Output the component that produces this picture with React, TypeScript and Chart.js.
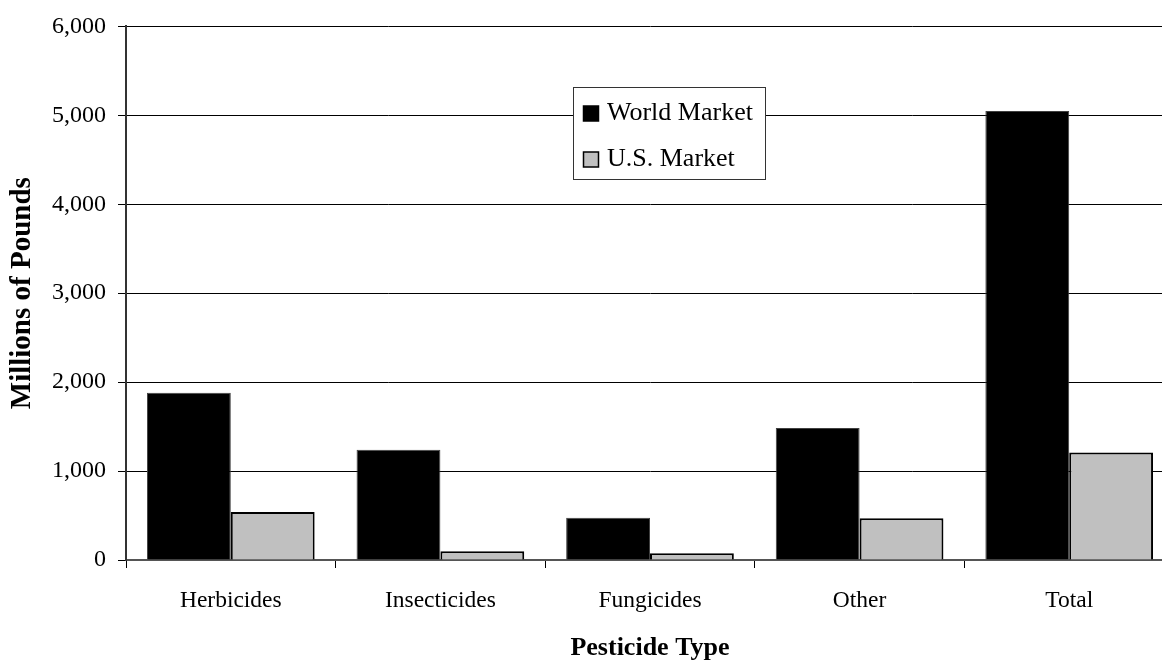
import { useEffect, useRef } from 'react';
import { Chart, registerables } from 'chart.js';

Chart.register(...registerables);

const categories = ['Herbicides', 'Insecticides', 'Fungicides', 'Other', 'Total'];
const worldMarket = [1880, 1240, 475, 1485, 5050];
const usMarket = [540, 98, 75, 470, 1210];
const seriesLabels = ['World Market', 'U.S. Market'];
const yTickValues = [0, 1000, 2000, 3000, 4000, 5000, 6000];
const xAxisTitle = 'Pesticide Type';
const yAxisTitle = 'Millions of Pounds';

const FONT = "'Liberation Serif', 'Times New Roman', serif";

const boxLegend = {
  id: 'boxLegend',
  afterDraw(chart: any, _args: any, opts: any) {
    const { ctx } = chart;
    const { left, top, width, height, firstRow, rowGap, swatchX, swatchSize, textX, fontSize } = opts;
    ctx.save();
    ctx.fillStyle = '#ffffff';
    ctx.fillRect(left, top, width, height);
    ctx.strokeStyle = '#333333';
    ctx.lineWidth = 1;
    ctx.strokeRect(left + 0.5, top + 0.5, width, height);
    chart.data.datasets.forEach((ds: any, i: number) => {
      const cy = top + firstRow + i * rowGap;
      ctx.fillStyle = ds.backgroundColor;
      ctx.fillRect(swatchX, cy - swatchSize / 2, swatchSize, swatchSize);
      ctx.strokeStyle = '#000000';
      ctx.lineWidth = 1.5;
      ctx.strokeRect(swatchX, cy - swatchSize / 2, swatchSize, swatchSize);
      ctx.fillStyle = '#000000';
      ctx.font = `${fontSize}px ${FONT}`;
      ctx.textBaseline = 'middle';
      ctx.textAlign = 'left';
      ctx.fillText(ds.label, textX, cy);
    });
    ctx.restore();
  },
};

export default function App() {
  const canvasRef = useRef<HTMLCanvasElement | null>(null);

  useEffect(() => {
    document.body.style.margin = '0';
    const canvas = canvasRef.current;
    if (!canvas) return;
    const chart = new Chart(canvas, {
      type: 'bar',
      data: {
        labels: categories,
        datasets: [
          {
            label: seriesLabels[0],
            data: worldMarket,
            backgroundColor: '#000000',
            borderColor: '#404040',
            borderWidth: 1,
            categoryPercentage: 0.8,
            barPercentage: 1,
          },
          {
            label: seriesLabels[1],
            data: usMarket,
            backgroundColor: '#C0C0C0',
            borderColor: '#000000',
            borderWidth: 2,
            categoryPercentage: 0.8,
            barPercentage: 1,
          },
        ],
      },
      options: {
        responsive: false,
        animation: false,
        devicePixelRatio: 1,
        layout: { padding: { top: 26, right: 2, bottom: 0, left: 0 } },
        plugins: {
          legend: { display: false },
          tooltip: { enabled: false },
          boxLegend: {
            left: 573,
            top: 87,
            width: 192,
            height: 92,
            firstRow: 26.5,
            rowGap: 46,
            swatchX: 583.5,
            swatchSize: 15,
            textX: 607,
            fontSize: 26,
          },
        } as any,
        scales: {
          x: {
            grid: {
              offset: true,
              drawOnChartArea: false,
              drawTicks: true,
              tickLength: 8,
              color: '#000000',
              lineWidth: 1,
            },
            border: { color: '#555555', width: 2 },
            ticks: {
              color: '#000000',
              font: { family: FONT, size: 23.5 },
              padding: 19,
              maxRotation: 0,
            },
            title: {
              display: true,
              text: xAxisTitle,
              color: '#000000',
              font: { family: FONT, size: 26, weight: 'bold', lineHeight: 1 },
              padding: { top: 0, bottom: 0 },
            },
            afterFit: (s: any) => {
              s.height = 101;
            },
          },
          y: {
            min: 0,
            max: 6000,
            afterBuildTicks: (s: any) => {
              s.ticks = yTickValues.map((v) => ({ value: v }));
            },
            grid: {
              color: '#000000',
              lineWidth: 1,
              drawTicks: true,
              tickLength: 8,
            },
            border: { color: '#333333', width: 2 },
            ticks: {
              color: '#000000',
              font: { family: FONT, size: 24 },
              padding: 12,
              callback: (v: any) => Number(v).toLocaleString('en-US'),
            },
            title: {
              display: true,
              text: yAxisTitle,
              color: '#000000',
              font: { family: FONT, size: 29, weight: 'bold', lineHeight: 1 },
              padding: { top: 8, bottom: 0 },
            },
            afterFit: (s: any) => {
              s.width = 126;
            },
          },
        },
      } as any,
      plugins: [boxLegend],
    });
    return () => {
      chart.destroy();
    };
  }, []);

  return (
    <div
      style={{
        position: 'fixed',
        left: 0,
        top: 0,
        width: 1162,
        height: 661,
        overflow: 'hidden',
        background: '#ffffff',
      }}
    >
      <canvas ref={canvasRef} width={1176} height={661} style={{ display: 'block' }} />
    </div>
  );
}
